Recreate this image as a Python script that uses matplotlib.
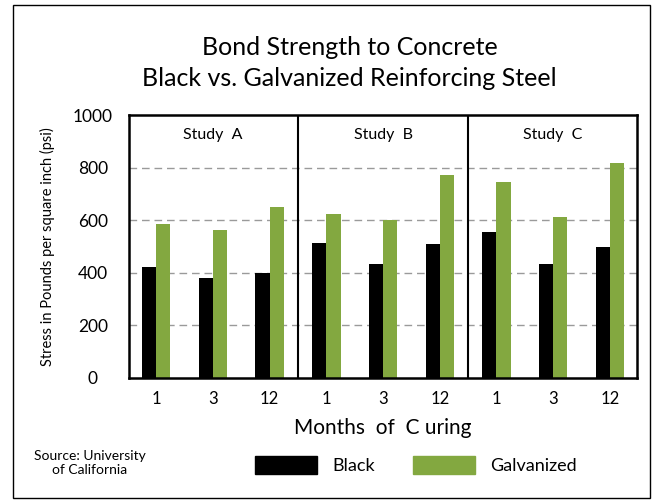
import matplotlib
matplotlib.use('Agg')
import matplotlib.pyplot as plt
import matplotlib.patches as mpatches
import numpy as np

plt.rcParams['font.family'] = ['Lato', 'DejaVu Sans']

# Data
studies = ['Study A', 'Study B', 'Study C']
months = ['1', '3', '12']
black = [423, 382, 398, 515, 435, 508, 557, 432, 500]
galvanized = [584, 561, 652, 625, 599, 770, 747, 614, 819]

green = '#83a840'

fig = plt.figure(figsize=(6.6, 5), dpi=100)
ax = fig.add_axes([0.1955, 0.244, 0.7697, 0.526])

x = np.arange(len(black))
width = 0.25

# Gridlines
for v in [200, 400, 600, 800]:
    ax.axhline(v, color='#9a9a9a', lw=1, linestyle=(0, (5.5, 3.5)), zorder=1)

ax.bar(x - width / 2, black, width, color='black', zorder=2)
ax.bar(x + width / 2, galvanized, width, color=green, zorder=2)

# Panel dividers
ax.axvline(2.5, color='black', lw=1.5, zorder=3)
ax.axvline(5.5, color='black', lw=1.5, zorder=3)

for i, s in enumerate(studies):
    ax.text(3 * i + 1, 925, s.replace(' ', '  '), ha='center', va='center', fontsize=11.5)

ax.set_xlim(-0.48, 8.48)
ax.set_ylim(0, 1000)
ax.set_xticks(x)
ax.set_xticklabels(months * 3, fontsize=12)
ax.set_yticks([0, 200, 400, 600, 800, 1000])
ax.tick_params(axis='both', length=0)
ax.tick_params(axis='x', pad=9)
ax.tick_params(axis='y', pad=26, labelsize=12.5)
for lab in ax.get_yticklabels():
    lab.set_horizontalalignment('center')

for sp in ax.spines.values():
    sp.set_color('black')
    sp.set_linewidth(1.8)

ax.set_ylabel('Stress in Pounds per square inch (psi)', fontsize=10.5, labelpad=13)

# Title and x label
fig.text(0.53, 0.905, 'Bond Strength to Concrete', ha='center', va='center', fontsize=18)
fig.text(0.53, 0.843, 'Black vs. Galvanized Reinforcing Steel', ha='center', va='center', fontsize=18)
fig.text(0.58, 0.144, 'Months  of  C uring', ha='center', va='center', fontsize=15)

# Source
fig.text(0.136, 0.0735, 'Source: University\nof California', ha='center', va='center',
         fontsize=10, linespacing=1.25)

# Legend
handles = [mpatches.Patch(color='black', label='Black'),
           mpatches.Patch(color=green, label='Galvanized')]
fig.legend(handles=handles, loc='center', bbox_to_anchor=(0.63, 0.07), ncol=2,
           frameon=False, fontsize=13, handlelength=3.45, handleheight=1.17,
           handletextpad=0.83, columnspacing=2.1)

# Outer border
fig.patches.append(mpatches.Rectangle((0.02, 0.005), 0.965, 0.985, transform=fig.transFigure,
                                      fill=False, edgecolor='black', lw=1))

fig.savefig('out.png', dpi=100)
